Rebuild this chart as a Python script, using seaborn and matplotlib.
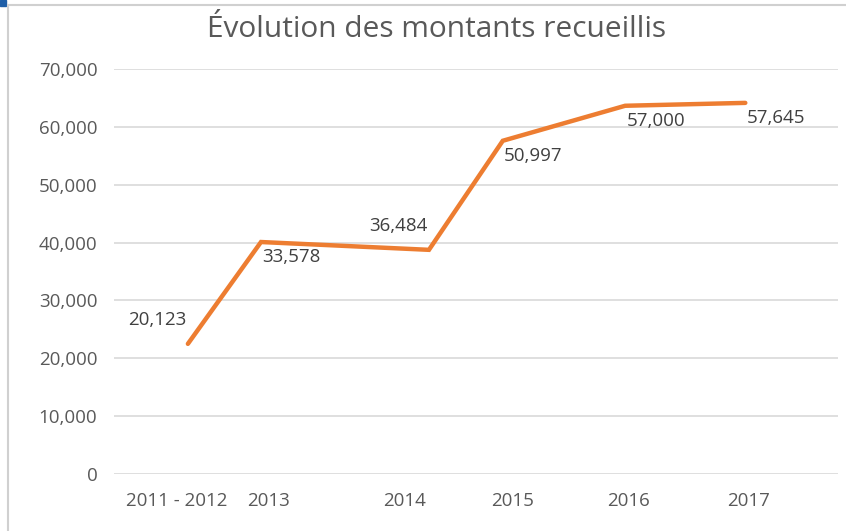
import matplotlib
matplotlib.use("Agg")
import numpy as np
import pandas as pd
import matplotlib.pyplot as plt
import seaborn as sns
from matplotlib.lines import Line2D
from matplotlib.patches import Rectangle
from matplotlib.ticker import FuncFormatter

# Position des points le long de l'axe (0-100) et montants tracés
x_points = [10.2, 20.3, 43.5, 53.7, 70.6, 87.2]
montants = [22500, 40100, 38750, 57600, 63650, 64150]
# Etiquettes de données affichées (différentes des valeurs tracées)
etiquettes = [20123, 33578, 36484, 50997, 57000, 57645]
# Etiquettes de l'axe horizontal et leur position
annees = ["2011 - 2012", "2013", "2014", "2015", "2016", "2017"]
x_annees = [8.6, 21.4, 40.1, 55.1, 71.1, 87.7]

ORANGE = "#ED7D31"
GRIS_TEXTE = "#595959"
GRIS_GRILLE = "#D9D9D9"


def main():
    sns.set_theme(style="white")
    plt.rcParams["font.family"] = ["Open Sans", "DejaVu Sans"]

    df = pd.DataFrame({"x": x_points, "montant": montants})

    fig = plt.figure(figsize=(8.46, 5.31), dpi=100)
    ax = fig.add_axes([0.1348, 0.1073, 0.8557, 0.7627])

    sns.lineplot(data=df, x="x", y="montant", ax=ax, color=ORANGE,
                 linewidth=3.2, solid_joinstyle="miter")

    # étiquettes de données
    for i, (x, y, lab) in enumerate(zip(x_points, montants, etiquettes)):
        if i in (0, 2):
            off, ha = (-1, 17), "right"
        else:
            off, ha = (1, -11), "left"
        ax.annotate(f"{lab:,}", (x, y), xytext=off, textcoords="offset points",
                    ha=ha, va="center", fontsize=13.5, color="#404040")

    ax.set_xlim(0, 100)
    ax.set_ylim(0, 70000)
    ax.set_yticks(np.arange(0, 70001, 10000))
    ax.yaxis.set_major_formatter(FuncFormatter(lambda v, p: f"{int(v):,}"))
    ax.set_xticks(x_annees)
    ax.set_xticklabels(annees)
    ax.tick_params(axis="both", length=0, labelsize=13.5, labelcolor=GRIS_TEXTE)
    ax.tick_params(axis="y", pad=12)
    ax.tick_params(axis="x", pad=13)
    ax.grid(axis="y", color=GRIS_GRILLE, linewidth=1.2)
    ax.set_axisbelow(True)
    for s in ax.spines.values():
        s.set_visible(False)
    ax.set_xlabel("")
    ax.set_ylabel("")

    fig.text(0.516, 0.944, "Évolution des montants recueillis", ha="center",
             va="center", fontsize=21.5, color=GRIS_TEXTE)

    # bordure du graphique et poignée de sélection
    fig.add_artist(Line2D([0.009, 1.0], [0.99, 0.99], color="#D0D0D0", linewidth=1.5))
    fig.add_artist(Line2D([0.009, 0.009], [0.0, 0.99], color="#D0D0D0", linewidth=1.5))
    fig.add_artist(Rectangle((0, 0.988), 0.007, 0.012, color="#1F5FA8",
                             transform=fig.transFigure))

    fig.savefig("out.png", dpi=100)


if __name__ == "__main__":
    main()
